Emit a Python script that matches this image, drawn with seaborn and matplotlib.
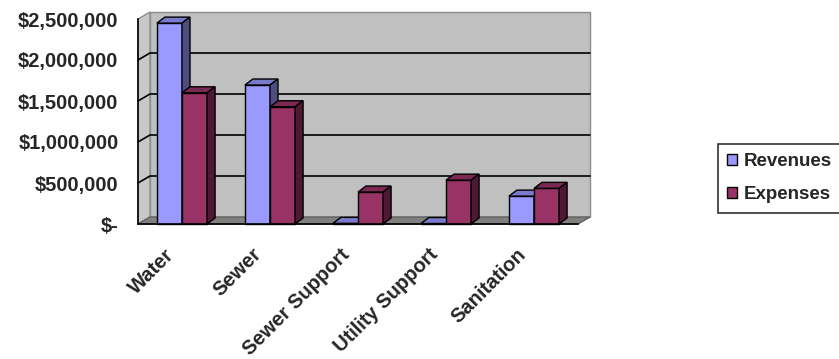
#!/usr/bin/env python3
"""Revenues vs expenses by utility fund, drawn as an Excel-style 3D column chart."""
import matplotlib
matplotlib.use("Agg")
import matplotlib.pyplot as plt
import matplotlib.transforms as mtrans
from matplotlib.patches import Polygon, Patch
import pandas as pd
import seaborn as sns

CATEGORIES = ["Water", "Sewer", "Sewer Support", "Utility Support", "Sanitation"]
REVENUES = [2450000, 1695000, 8000, 6000, 340000]
EXPENSES = [1600000, 1430000, 390000, 535000, 435000]
SERIES = ["Revenues", "Expenses"]
Y_TICKS = [0, 500000, 1000000, 1500000, 2000000, 2500000]

FRONT = {"Revenues": "#9999FF", "Expenses": "#993366"}
TOP = {"Revenues": "#7A7ACC", "Expenses": "#7A2952"}
SIDE = {"Revenues": "#4D4D80", "Expenses": "#4D1A33"}

W, H = 839, 359
PX_X = 88.0                 # pixels per category
PX_Y = 41.0 / 500000        # pixels per dollar
FONT = ["Liberation Sans", "DejaVu Sans"]
FS = 14.5


def money(v):
    return "$-" if v == 0 else f"${v:,.0f}"


def main():
    sns.set_style("white")
    plt.rcParams["font.family"] = FONT
    plt.rcParams["font.weight"] = "bold"

    df = pd.DataFrame({
        "category": CATEGORIES * 2,
        "series": [SERIES[0]] * len(CATEGORIES) + [SERIES[1]] * len(CATEGORIES),
        "value": REVENUES + EXPENSES,
    })

    fig = plt.figure(figsize=(W / 100, H / 100), dpi=100)
    ax = fig.add_axes([138 / W, 135 / H, 440 / W, 205 / H])

    sns.barplot(data=df, x="category", y="value", hue="series", order=CATEGORIES,
                hue_order=SERIES, palette=FRONT, width=0.57, saturation=1,
                edgecolor="black", linewidth=1, legend=False, ax=ax)

    x0, x1 = -0.5, len(CATEGORIES) - 0.5
    ymax = Y_TICKS[-1]
    wdx, wdy = 12 / PX_X, 7 / PX_Y      # wall depth
    bdx, bdy = 8 / PX_X, 6 / PX_Y       # bar depth

    # walls and floor
    ax.add_patch(Polygon([(x0 + wdx, wdy), (x1 + wdx, wdy), (x1 + wdx, ymax + wdy),
                          (x0 + wdx, ymax + wdy)], closed=True, fc="#C0C0C0",
                         ec="#8C8C8C", lw=1, zorder=0.5, clip_on=False))
    ax.add_patch(Polygon([(x0, 0), (x0, ymax), (x0 + wdx, ymax + wdy), (x0 + wdx, wdy)],
                         closed=True, fc="#C8C8C8", ec="#8C8C8C", lw=1, zorder=0.6,
                         clip_on=False))
    ax.add_patch(Polygon([(x0, 0), (x1, 0), (x1 + wdx, wdy), (x0 + wdx, wdy)],
                         closed=True, fc="#808080", ec="#606060", lw=1, zorder=0.7,
                         clip_on=False))
    for t in Y_TICKS[1:-1]:
        ax.plot([x0, x0 + wdx, x1 + wdx], [t, t + wdy, t + wdy], color="black",
                lw=1.2, zorder=0.8, clip_on=False)

    # 3D faces for each bar
    for z, (name, cont) in enumerate(zip(SERIES, ax.containers)):
        for bar in cont:
            bx0 = bar.get_x()
            bx1 = bx0 + bar.get_width()
            h = bar.get_height()
            bar.set_zorder(3 + z)
            bar.set_clip_on(False)
            ax.add_patch(Polygon([(bx0, h), (bx1, h), (bx1 + bdx, h + bdy), (bx0 + bdx, h + bdy)],
                                 closed=True, fc=TOP[name], ec="black", lw=1,
                                 zorder=3 + z, clip_on=False))
            ax.add_patch(Polygon([(bx1, 0), (bx1, h), (bx1 + bdx, h + bdy), (bx1 + bdx, bdy)],
                                 closed=True, fc=SIDE[name], ec="black", lw=1,
                                 zorder=3 + z, clip_on=False))

    ax.set_xlim(x0, x1)
    ax.set_ylim(0, ymax)
    ax.set_xlabel("")
    ax.set_ylabel("")
    for s in ["top", "right"]:
        ax.spines[s].set_visible(False)
    for s in ["left", "bottom"]:
        ax.spines[s].set_color("black")
        ax.spines[s].set_linewidth(1.2)
        ax.spines[s].set_zorder(6)

    ax.set_yticks(Y_TICKS)
    ax.set_yticklabels([money(v) for v in Y_TICKS], fontsize=FS, fontweight="bold")
    ax.tick_params(axis="y", direction="out", length=5, width=1.2, color="black", pad=9)

    ax.set_xticks(range(len(CATEGORIES)))
    ax.set_xticklabels(CATEGORIES, rotation=45, ha="right", rotation_mode="anchor",
                       fontsize=FS, fontweight="bold")
    ax.tick_params(axis="x", length=0, pad=15)
    shift = mtrans.ScaledTranslation(-18 / 100, 0, fig.dpi_scale_trans)
    for lab in ax.get_xticklabels():
        lab.set_transform(lab.get_transform() + shift)
    ax.set_xticks([x0 + i for i in range(len(CATEGORIES) + 1)], minor=True)
    ax.tick_params(axis="x", which="minor", direction="out", length=6, width=1.2,
                   color="black")

    handles = [Patch(fc=FRONT[n], ec="black", lw=1, label=n) for n in SERIES]
    leg = fig.legend(handles=handles, loc="upper left", bbox_to_anchor=(718 / W, 1 - 144 / H),
                     frameon=True, fancybox=False, edgecolor="black", handlelength=0.5,
                     handleheight=0.5, handletextpad=0.35, labelspacing=0.85,
                     borderpad=0.5, borderaxespad=0,
                     prop={"family": FONT, "size": 13.5, "weight": "bold"})
    leg.get_frame().set_linewidth(1.2)

    fig.savefig("out.png", dpi=100, facecolor="white")


if __name__ == "__main__":
    main()
